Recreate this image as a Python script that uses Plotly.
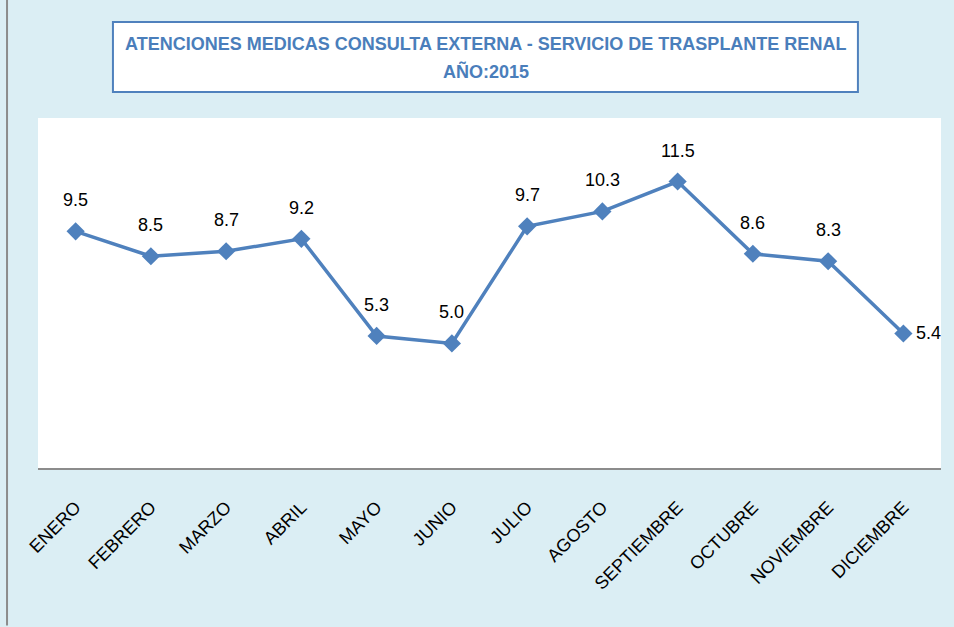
import plotly.graph_objects as go

months = ["ENERO", "FEBRERO", "MARZO", "ABRIL", "MAYO", "JUNIO", "JULIO",
          "AGOSTO", "SEPTIEMBRE", "OCTUBRE", "NOVIEMBRE", "DICIEMBRE"]
values = [9.5, 8.5, 8.7, 9.2, 5.3, 5.0, 9.7, 10.3, 11.5, 8.6, 8.3, 5.4]
title_lines = ["ATENCIONES MEDICAS CONSULTA EXTERNA - SERVICIO DE TRASPLANTE RENAL", "AÑO:2015"]

BLUE = "#4F81BD"
FONT = "Liberation Sans Narrow, Arial Narrow, Liberation Sans, sans-serif"

fig = go.Figure()
fig.add_trace(go.Scatter(
    x=months, y=values, mode="lines+markers",
    line=dict(color=BLUE, width=3.5),
    marker=dict(symbol="diamond", size=14, color=BLUE),
    hoverinfo="skip", showlegend=False,
))

annotations = []
for i, (m, v) in enumerate(zip(months, values)):
    last = i == len(months) - 1
    annotations.append(dict(
        x=m, y=v, xref="x", yref="y", text=f"{v:.1f}", showarrow=False,
        font=dict(family=FONT, size=18, color="#000000"),
        xanchor="left" if last else "center",
        yanchor="middle",
        xshift=11 if last else 0,
        yshift=0 if last else 31,
    ))

for line, ypos in zip(title_lines, [1.2114, 1.134]):
    annotations.append(dict(
        x=0.496, y=ypos, xref="paper", yref="paper",
        text="<b>" + line + "</b>", showarrow=False,
        font=dict(family=FONT, size=18, color="#4A7EBB"),
        align="center", xanchor="center", yanchor="middle",
    ))

shapes = [
    dict(type="rect", xref="paper", yref="paper", x0=0.083, x1=0.908, y0=1.074, y1=1.274,
         line=dict(color=BLUE, width=2), fillcolor="white", layer="below"),
    dict(type="line", xref="paper", yref="paper", x0=-0.0343, x1=-0.0343, y0=-0.45, y1=1.34,
         line=dict(color="#8C8C8C", width=2)),
]

fig.update_layout(
    width=954, height=627,
    margin=dict(l=38, r=13, t=118, b=159),
    paper_bgcolor="#DBEEF4", plot_bgcolor="white",
    annotations=annotations, shapes=shapes,
    xaxis=dict(
        type="category", showgrid=False, zeroline=False,
        showline=True, linecolor="#8C8C8C", linewidth=1.5,
        tickangle=-45, ticks="outside", ticklen=20, tickcolor="rgba(0,0,0,0)",
        tickfont=dict(family=FONT, size=18, color="#000000"),
        range=[-0.5, 11.5],
    ),
    yaxis=dict(
        range=[0, 14.05], showgrid=False, zeroline=False, showline=False,
        showticklabels=False, ticks="",
    ),
)

fig.write_html("out.html", config={"displayModeBar": False},
               post_script="document.body.style.margin='0';document.body.style.padding='0';")
